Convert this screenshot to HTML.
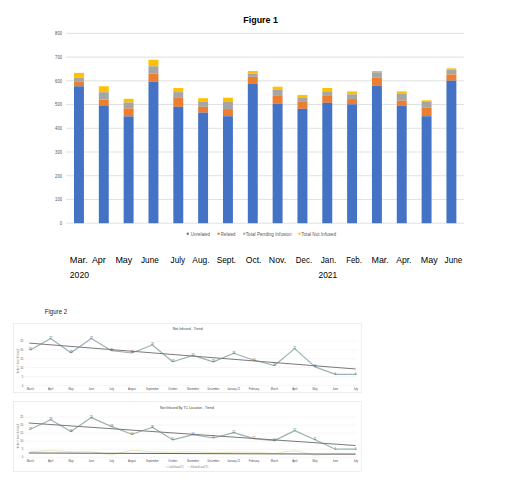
<!DOCTYPE html>
<html><head><meta charset="utf-8"><title>Figures</title>
<style>
html,body{margin:0;padding:0;background:#fff;}
body{width:520px;height:503px;overflow:hidden;font-family:"Liberation Sans", sans-serif;}
svg{display:block;}
text{font-family:"Liberation Sans", sans-serif;}
</style></head><body>
<svg width="520" height="503" viewBox="0 0 520 503">
<text x="243.30" y="23.30" font-size="9.6" fill="#000" font-weight="bold" text-anchor="start" textLength="34.60" lengthAdjust="spacingAndGlyphs">Figure 1</text>
<line x1="66" y1="223.20" x2="464" y2="223.20" stroke="#d9d9d9" stroke-width="0.8"/>
<text x="0" y="0" transform="translate(59.70,225.00) scale(0.25)" font-size="20.00" fill="#505050" font-weight="normal" text-anchor="start" textLength="9.20" lengthAdjust="spacingAndGlyphs">0</text>
<line x1="66" y1="199.47" x2="464" y2="199.47" stroke="#d9d9d9" stroke-width="0.8"/>
<text x="0" y="0" transform="translate(55.10,201.27) scale(0.25)" font-size="20.00" fill="#505050" font-weight="normal" text-anchor="start" textLength="27.60" lengthAdjust="spacingAndGlyphs">100</text>
<line x1="66" y1="175.74" x2="464" y2="175.74" stroke="#d9d9d9" stroke-width="0.8"/>
<text x="0" y="0" transform="translate(55.10,177.54) scale(0.25)" font-size="20.00" fill="#505050" font-weight="normal" text-anchor="start" textLength="27.60" lengthAdjust="spacingAndGlyphs">200</text>
<line x1="66" y1="152.01" x2="464" y2="152.01" stroke="#d9d9d9" stroke-width="0.8"/>
<text x="0" y="0" transform="translate(55.10,153.81) scale(0.25)" font-size="20.00" fill="#505050" font-weight="normal" text-anchor="start" textLength="27.60" lengthAdjust="spacingAndGlyphs">300</text>
<line x1="66" y1="128.28" x2="464" y2="128.28" stroke="#d9d9d9" stroke-width="0.8"/>
<text x="0" y="0" transform="translate(55.10,130.08) scale(0.25)" font-size="20.00" fill="#505050" font-weight="normal" text-anchor="start" textLength="27.60" lengthAdjust="spacingAndGlyphs">400</text>
<line x1="66" y1="104.55" x2="464" y2="104.55" stroke="#d9d9d9" stroke-width="0.8"/>
<text x="0" y="0" transform="translate(55.10,106.35) scale(0.25)" font-size="20.00" fill="#505050" font-weight="normal" text-anchor="start" textLength="27.60" lengthAdjust="spacingAndGlyphs">500</text>
<line x1="66" y1="80.82" x2="464" y2="80.82" stroke="#d9d9d9" stroke-width="0.8"/>
<text x="0" y="0" transform="translate(55.10,82.62) scale(0.25)" font-size="20.00" fill="#505050" font-weight="normal" text-anchor="start" textLength="27.60" lengthAdjust="spacingAndGlyphs">600</text>
<line x1="66" y1="57.09" x2="464" y2="57.09" stroke="#d9d9d9" stroke-width="0.8"/>
<text x="0" y="0" transform="translate(55.10,58.89) scale(0.25)" font-size="20.00" fill="#505050" font-weight="normal" text-anchor="start" textLength="27.60" lengthAdjust="spacingAndGlyphs">700</text>
<line x1="66" y1="33.36" x2="464" y2="33.36" stroke="#d9d9d9" stroke-width="0.8"/>
<text x="0" y="0" transform="translate(55.10,35.16) scale(0.25)" font-size="20.00" fill="#505050" font-weight="normal" text-anchor="start" textLength="27.60" lengthAdjust="spacingAndGlyphs">800</text>
<rect x="74.00" y="72.90" width="9.93" height="4.80" fill="#FFC000"/>
<rect x="74.00" y="77.70" width="9.93" height="4.10" fill="#A5A5A5"/>
<rect x="74.00" y="81.80" width="9.93" height="4.50" fill="#ED7D31"/>
<rect x="74.00" y="86.30" width="9.93" height="136.90" fill="#4472C4"/>
<rect x="98.83" y="86.25" width="9.93" height="5.95" fill="#FFC000"/>
<rect x="98.83" y="92.20" width="9.93" height="7.50" fill="#A5A5A5"/>
<rect x="98.83" y="99.70" width="9.93" height="6.30" fill="#ED7D31"/>
<rect x="98.83" y="106.00" width="9.93" height="117.20" fill="#4472C4"/>
<rect x="123.66" y="98.80" width="9.93" height="3.70" fill="#FFC000"/>
<rect x="123.66" y="102.50" width="9.93" height="5.80" fill="#A5A5A5"/>
<rect x="123.66" y="108.30" width="9.93" height="8.10" fill="#ED7D31"/>
<rect x="123.66" y="116.40" width="9.93" height="106.80" fill="#4472C4"/>
<rect x="148.49" y="59.80" width="9.93" height="6.50" fill="#FFC000"/>
<rect x="148.49" y="66.30" width="9.93" height="7.20" fill="#A5A5A5"/>
<rect x="148.49" y="73.50" width="9.93" height="8.30" fill="#ED7D31"/>
<rect x="148.49" y="81.80" width="9.93" height="141.40" fill="#4472C4"/>
<rect x="173.32" y="88.05" width="9.93" height="4.05" fill="#FFC000"/>
<rect x="173.32" y="92.10" width="9.93" height="5.80" fill="#A5A5A5"/>
<rect x="173.32" y="97.90" width="9.93" height="8.90" fill="#ED7D31"/>
<rect x="173.32" y="106.80" width="9.93" height="116.40" fill="#4472C4"/>
<rect x="198.15" y="98.20" width="9.93" height="3.30" fill="#FFC000"/>
<rect x="198.15" y="101.50" width="9.93" height="5.30" fill="#A5A5A5"/>
<rect x="198.15" y="106.80" width="9.93" height="5.80" fill="#ED7D31"/>
<rect x="198.15" y="112.60" width="9.93" height="110.60" fill="#4472C4"/>
<rect x="222.98" y="97.70" width="9.93" height="4.30" fill="#FFC000"/>
<rect x="222.98" y="102.00" width="9.93" height="7.10" fill="#A5A5A5"/>
<rect x="222.98" y="109.10" width="9.93" height="7.10" fill="#ED7D31"/>
<rect x="222.98" y="116.20" width="9.93" height="107.00" fill="#4472C4"/>
<rect x="247.81" y="71.00" width="9.93" height="2.60" fill="#FFC000"/>
<rect x="247.81" y="73.60" width="9.93" height="3.20" fill="#A5A5A5"/>
<rect x="247.81" y="76.80" width="9.93" height="7.10" fill="#ED7D31"/>
<rect x="247.81" y="83.90" width="9.93" height="139.30" fill="#4472C4"/>
<rect x="272.64" y="86.70" width="9.93" height="3.20" fill="#FFC000"/>
<rect x="272.64" y="89.90" width="9.93" height="6.00" fill="#A5A5A5"/>
<rect x="272.64" y="95.90" width="9.93" height="7.90" fill="#ED7D31"/>
<rect x="272.64" y="103.80" width="9.93" height="119.40" fill="#4472C4"/>
<rect x="297.47" y="94.90" width="9.93" height="2.50" fill="#FFC000"/>
<rect x="297.47" y="97.40" width="9.93" height="3.90" fill="#A5A5A5"/>
<rect x="297.47" y="101.30" width="9.93" height="7.50" fill="#ED7D31"/>
<rect x="297.47" y="108.80" width="9.93" height="114.40" fill="#4472C4"/>
<rect x="322.30" y="87.90" width="9.93" height="3.50" fill="#FFC000"/>
<rect x="322.30" y="91.40" width="9.93" height="4.50" fill="#A5A5A5"/>
<rect x="322.30" y="95.90" width="9.93" height="6.90" fill="#ED7D31"/>
<rect x="322.30" y="102.80" width="9.93" height="120.40" fill="#4472C4"/>
<rect x="347.13" y="91.40" width="9.93" height="3.00" fill="#FFC000"/>
<rect x="347.13" y="94.40" width="9.93" height="4.50" fill="#A5A5A5"/>
<rect x="347.13" y="98.90" width="9.93" height="5.40" fill="#ED7D31"/>
<rect x="347.13" y="104.30" width="9.93" height="118.90" fill="#4472C4"/>
<rect x="371.96" y="71.00" width="9.93" height="1.30" fill="#FFC000"/>
<rect x="371.96" y="72.30" width="9.93" height="5.10" fill="#A5A5A5"/>
<rect x="371.96" y="77.40" width="9.93" height="8.40" fill="#ED7D31"/>
<rect x="371.96" y="85.80" width="9.93" height="137.40" fill="#4472C4"/>
<rect x="396.79" y="91.40" width="9.93" height="2.50" fill="#FFC000"/>
<rect x="396.79" y="93.90" width="9.93" height="6.80" fill="#A5A5A5"/>
<rect x="396.79" y="100.70" width="9.93" height="5.20" fill="#ED7D31"/>
<rect x="396.79" y="105.90" width="9.93" height="117.30" fill="#4472C4"/>
<rect x="421.62" y="100.30" width="9.93" height="1.70" fill="#FFC000"/>
<rect x="421.62" y="102.00" width="9.93" height="5.80" fill="#A5A5A5"/>
<rect x="421.62" y="107.80" width="9.93" height="8.40" fill="#ED7D31"/>
<rect x="421.62" y="116.20" width="9.93" height="107.00" fill="#4472C4"/>
<rect x="446.45" y="68.40" width="9.93" height="1.70" fill="#FFC000"/>
<rect x="446.45" y="70.10" width="9.93" height="4.40" fill="#A5A5A5"/>
<rect x="446.45" y="74.50" width="9.93" height="6.20" fill="#ED7D31"/>
<rect x="446.45" y="80.70" width="9.93" height="142.50" fill="#4472C4"/>
<rect x="186.70000000000002" y="232.7" width="2.1" height="2.1" fill="#4472C4"/>
<text x="0" y="0" transform="translate(190.80,235.60) scale(0.25)" font-size="18.80" fill="#595959" font-weight="normal" text-anchor="start" textLength="76.80" lengthAdjust="spacingAndGlyphs">Unrelated</text>
<rect x="217.5" y="232.7" width="2.1" height="2.1" fill="#ED7D31"/>
<text x="0" y="0" transform="translate(220.80,235.60) scale(0.25)" font-size="18.80" fill="#595959" font-weight="normal" text-anchor="start" textLength="58.40" lengthAdjust="spacingAndGlyphs">Related</text>
<rect x="243.20000000000002" y="232.7" width="2.1" height="2.1" fill="#A5A5A5"/>
<text x="0" y="0" transform="translate(245.80,235.60) scale(0.25)" font-size="18.80" fill="#595959" font-weight="normal" text-anchor="start" textLength="182.80" lengthAdjust="spacingAndGlyphs">Total Pending Infusion</text>
<rect x="298.5" y="232.7" width="2.1" height="2.1" fill="#FFC000"/>
<text x="0" y="0" transform="translate(301.20,235.60) scale(0.25)" font-size="18.80" fill="#595959" font-weight="normal" text-anchor="start" textLength="139.20" lengthAdjust="spacingAndGlyphs">Total Not Infused</text>
<text x="69.80" y="263.10" font-size="8.4" fill="#000" font-weight="normal" text-anchor="start" textLength="17.90" lengthAdjust="spacingAndGlyphs">Mar.</text>
<text x="91.90" y="263.10" font-size="8.4" fill="#000" font-weight="normal" text-anchor="start" textLength="13.90" lengthAdjust="spacingAndGlyphs">Apr</text>
<text x="115.40" y="263.10" font-size="8.4" fill="#000" font-weight="normal" text-anchor="start" textLength="16.90" lengthAdjust="spacingAndGlyphs">May</text>
<text x="141.00" y="263.10" font-size="8.4" fill="#000" font-weight="normal" text-anchor="start" textLength="17.80" lengthAdjust="spacingAndGlyphs">June</text>
<text x="170.60" y="263.10" font-size="8.4" fill="#000" font-weight="normal" text-anchor="start" textLength="14.40" lengthAdjust="spacingAndGlyphs">July</text>
<text x="192.30" y="263.10" font-size="8.4" fill="#000" font-weight="normal" text-anchor="start" textLength="17.30" lengthAdjust="spacingAndGlyphs">Aug.</text>
<text x="216.70" y="263.10" font-size="8.4" fill="#000" font-weight="normal" text-anchor="start" textLength="19.30" lengthAdjust="spacingAndGlyphs">Sept.</text>
<text x="245.80" y="263.10" font-size="8.4" fill="#000" font-weight="normal" text-anchor="start" textLength="15.70" lengthAdjust="spacingAndGlyphs">Oct.</text>
<text x="268.80" y="263.10" font-size="8.4" fill="#000" font-weight="normal" text-anchor="start" textLength="17.40" lengthAdjust="spacingAndGlyphs">Nov.</text>
<text x="295.80" y="263.10" font-size="8.4" fill="#000" font-weight="normal" text-anchor="start" textLength="16.30" lengthAdjust="spacingAndGlyphs">Dec.</text>
<text x="320.80" y="263.10" font-size="8.4" fill="#000" font-weight="normal" text-anchor="start" textLength="15.40" lengthAdjust="spacingAndGlyphs">Jan.</text>
<text x="346.20" y="263.10" font-size="8.4" fill="#000" font-weight="normal" text-anchor="start" textLength="15.70" lengthAdjust="spacingAndGlyphs">Feb.</text>
<text x="371.50" y="263.10" font-size="8.4" fill="#000" font-weight="normal" text-anchor="start" textLength="17.30" lengthAdjust="spacingAndGlyphs">Mar.</text>
<text x="396.20" y="263.10" font-size="8.4" fill="#000" font-weight="normal" text-anchor="start" textLength="15.30" lengthAdjust="spacingAndGlyphs">Apr.</text>
<text x="420.80" y="263.10" font-size="8.4" fill="#000" font-weight="normal" text-anchor="start" textLength="16.90" lengthAdjust="spacingAndGlyphs">May</text>
<text x="444.60" y="263.10" font-size="8.4" fill="#000" font-weight="normal" text-anchor="start" textLength="17.70" lengthAdjust="spacingAndGlyphs">June</text>
<text x="69.80" y="278.30" font-size="8.7" fill="#000" font-weight="normal" text-anchor="start" textLength="19.20" lengthAdjust="spacingAndGlyphs">2020</text>
<text x="318.50" y="278.30" font-size="8.7" fill="#000" font-weight="normal" text-anchor="start" textLength="18.60" lengthAdjust="spacingAndGlyphs">2021</text>
<text x="44.80" y="314.10" font-size="6.6" fill="#222" font-weight="normal" text-anchor="start" textLength="22.30" lengthAdjust="spacingAndGlyphs">Figure 2</text>
<rect x="13.5" y="323.3" width="347.8" height="69.19999999999999" fill="#fff" stroke="#e6e6e6" stroke-width="0.7"/>
<line x1="24.5" y1="385.40" x2="357" y2="385.40" stroke="#ececec" stroke-width="0.5"/>
<text x="0" y="0" transform="translate(23.30,386.50) scale(0.25)" font-size="10.80" fill="#505050" font-weight="normal" text-anchor="end">0</text>
<line x1="24.5" y1="376.55" x2="357" y2="376.55" stroke="#ececec" stroke-width="0.5"/>
<text x="0" y="0" transform="translate(23.30,377.65) scale(0.25)" font-size="10.80" fill="#505050" font-weight="normal" text-anchor="end">5</text>
<line x1="24.5" y1="367.70" x2="357" y2="367.70" stroke="#ececec" stroke-width="0.5"/>
<text x="0" y="0" transform="translate(23.30,368.80) scale(0.25)" font-size="10.80" fill="#505050" font-weight="normal" text-anchor="end">10</text>
<line x1="24.5" y1="358.85" x2="357" y2="358.85" stroke="#ececec" stroke-width="0.5"/>
<text x="0" y="0" transform="translate(23.30,359.95) scale(0.25)" font-size="10.80" fill="#505050" font-weight="normal" text-anchor="end">15</text>
<line x1="24.5" y1="350.00" x2="357" y2="350.00" stroke="#ececec" stroke-width="0.5"/>
<text x="0" y="0" transform="translate(23.30,351.10) scale(0.25)" font-size="10.80" fill="#505050" font-weight="normal" text-anchor="end">20</text>
<line x1="24.5" y1="341.15" x2="357" y2="341.15" stroke="#ececec" stroke-width="0.5"/>
<text x="0" y="0" transform="translate(23.30,342.25) scale(0.25)" font-size="10.80" fill="#505050" font-weight="normal" text-anchor="end">25</text>
<text x="0" y="0" font-size="2.6" fill="#606060" text-anchor="middle" transform="translate(19.0,361.50) rotate(-90)" textLength="24.30" lengthAdjust="spacingAndGlyphs">Number of Doses Not Infused</text>
<text x="0" y="0" transform="translate(172.80,329.90) scale(0.25)" font-size="15.20" fill="#404040" font-weight="normal" text-anchor="start" textLength="119.20" lengthAdjust="spacingAndGlyphs">Not Infused - Trend</text>
<text x="0" y="0" transform="translate(30.30,389.80) scale(0.25)" font-size="10.40" fill="#4a4a4a" font-weight="normal" text-anchor="middle">March</text>
<text x="0" y="0" transform="translate(50.64,389.80) scale(0.25)" font-size="10.40" fill="#4a4a4a" font-weight="normal" text-anchor="middle">April</text>
<text x="0" y="0" transform="translate(70.98,389.80) scale(0.25)" font-size="10.40" fill="#4a4a4a" font-weight="normal" text-anchor="middle">May</text>
<text x="0" y="0" transform="translate(91.32,389.80) scale(0.25)" font-size="10.40" fill="#4a4a4a" font-weight="normal" text-anchor="middle">June</text>
<text x="0" y="0" transform="translate(111.66,389.80) scale(0.25)" font-size="10.40" fill="#4a4a4a" font-weight="normal" text-anchor="middle">July</text>
<text x="0" y="0" transform="translate(132.00,389.80) scale(0.25)" font-size="10.40" fill="#4a4a4a" font-weight="normal" text-anchor="middle">August</text>
<text x="0" y="0" transform="translate(152.34,389.80) scale(0.25)" font-size="10.40" fill="#4a4a4a" font-weight="normal" text-anchor="middle">September</text>
<text x="0" y="0" transform="translate(172.68,389.80) scale(0.25)" font-size="10.40" fill="#4a4a4a" font-weight="normal" text-anchor="middle">October</text>
<text x="0" y="0" transform="translate(193.02,389.80) scale(0.25)" font-size="10.40" fill="#4a4a4a" font-weight="normal" text-anchor="middle">November</text>
<text x="0" y="0" transform="translate(213.36,389.80) scale(0.25)" font-size="10.40" fill="#4a4a4a" font-weight="normal" text-anchor="middle">December</text>
<text x="0" y="0" transform="translate(233.70,389.80) scale(0.25)" font-size="10.40" fill="#4a4a4a" font-weight="normal" text-anchor="middle">January 21</text>
<text x="0" y="0" transform="translate(254.04,389.80) scale(0.25)" font-size="10.40" fill="#4a4a4a" font-weight="normal" text-anchor="middle">February</text>
<text x="0" y="0" transform="translate(274.38,389.80) scale(0.25)" font-size="10.40" fill="#4a4a4a" font-weight="normal" text-anchor="middle">March</text>
<text x="0" y="0" transform="translate(294.72,389.80) scale(0.25)" font-size="10.40" fill="#4a4a4a" font-weight="normal" text-anchor="middle">April</text>
<text x="0" y="0" transform="translate(315.06,389.80) scale(0.25)" font-size="10.40" fill="#4a4a4a" font-weight="normal" text-anchor="middle">May</text>
<text x="0" y="0" transform="translate(335.40,389.80) scale(0.25)" font-size="10.40" fill="#4a4a4a" font-weight="normal" text-anchor="middle">June</text>
<text x="0" y="0" transform="translate(355.74,389.80) scale(0.25)" font-size="10.40" fill="#4a4a4a" font-weight="normal" text-anchor="middle">July</text>
<polyline points="30.30,349.9 50.64,338.4 70.98,352.8 91.32,338.4 111.66,350.7 132.00,353.0 152.34,345.0 172.68,361.7 193.02,355.4 213.36,361.9 233.70,353.2 254.04,360.2 274.38,365.5 294.72,348.6 315.06,366.9 335.40,374.4 355.74,374.4" fill="none" stroke="#9db2b2" stroke-width="1.2" stroke-linejoin="round" stroke-linecap="round"/>
<line x1="29.2" y1="343.1" x2="355.7" y2="369.0" stroke="#7a7a7a" stroke-width="1.0"/>
<text x="0" y="0" transform="translate(30.30,350.20) scale(0.25)" font-size="10.40" fill="#444" font-weight="normal" text-anchor="middle">20</text>
<text x="0" y="0" transform="translate(50.64,338.70) scale(0.25)" font-size="10.40" fill="#444" font-weight="normal" text-anchor="middle">27</text>
<text x="0" y="0" transform="translate(70.98,353.10) scale(0.25)" font-size="10.40" fill="#444" font-weight="normal" text-anchor="middle">18</text>
<text x="0" y="0" transform="translate(91.32,338.70) scale(0.25)" font-size="10.40" fill="#444" font-weight="normal" text-anchor="middle">27</text>
<text x="0" y="0" transform="translate(111.66,351.00) scale(0.25)" font-size="10.40" fill="#444" font-weight="normal" text-anchor="middle">20</text>
<text x="0" y="0" transform="translate(132.00,353.30) scale(0.25)" font-size="10.40" fill="#444" font-weight="normal" text-anchor="middle">18</text>
<text x="0" y="0" transform="translate(152.34,345.30) scale(0.25)" font-size="10.40" fill="#444" font-weight="normal" text-anchor="middle">23</text>
<text x="0" y="0" transform="translate(172.68,362.00) scale(0.25)" font-size="10.40" fill="#444" font-weight="normal" text-anchor="middle">13</text>
<text x="0" y="0" transform="translate(193.02,355.70) scale(0.25)" font-size="10.40" fill="#444" font-weight="normal" text-anchor="middle">17</text>
<text x="0" y="0" transform="translate(213.36,362.20) scale(0.25)" font-size="10.40" fill="#444" font-weight="normal" text-anchor="middle">13</text>
<text x="0" y="0" transform="translate(233.70,353.50) scale(0.25)" font-size="10.40" fill="#444" font-weight="normal" text-anchor="middle">18</text>
<text x="0" y="0" transform="translate(254.04,360.50) scale(0.25)" font-size="10.40" fill="#444" font-weight="normal" text-anchor="middle">14</text>
<text x="0" y="0" transform="translate(274.38,365.80) scale(0.25)" font-size="10.40" fill="#444" font-weight="normal" text-anchor="middle">11</text>
<text x="0" y="0" transform="translate(294.72,348.90) scale(0.25)" font-size="10.40" fill="#444" font-weight="normal" text-anchor="middle">21</text>
<text x="0" y="0" transform="translate(315.06,367.20) scale(0.25)" font-size="10.40" fill="#444" font-weight="normal" text-anchor="middle">10</text>
<text x="0" y="0" transform="translate(335.40,374.70) scale(0.25)" font-size="10.40" fill="#444" font-weight="normal" text-anchor="middle">6</text>
<text x="0" y="0" transform="translate(355.74,374.70) scale(0.25)" font-size="10.40" fill="#444" font-weight="normal" text-anchor="middle">6</text>
<rect x="13.5" y="401.4" width="347.8" height="70.0" fill="#fff" stroke="#e6e6e6" stroke-width="0.7"/>
<line x1="24.5" y1="457.30" x2="357" y2="457.30" stroke="#ececec" stroke-width="0.5"/>
<text x="0" y="0" transform="translate(23.30,458.40) scale(0.25)" font-size="10.80" fill="#505050" font-weight="normal" text-anchor="end">0</text>
<line x1="24.5" y1="449.25" x2="357" y2="449.25" stroke="#ececec" stroke-width="0.5"/>
<text x="0" y="0" transform="translate(23.30,450.35) scale(0.25)" font-size="10.80" fill="#505050" font-weight="normal" text-anchor="end">5</text>
<line x1="24.5" y1="441.20" x2="357" y2="441.20" stroke="#ececec" stroke-width="0.5"/>
<text x="0" y="0" transform="translate(23.30,442.30) scale(0.25)" font-size="10.80" fill="#505050" font-weight="normal" text-anchor="end">10</text>
<line x1="24.5" y1="433.15" x2="357" y2="433.15" stroke="#ececec" stroke-width="0.5"/>
<text x="0" y="0" transform="translate(23.30,434.25) scale(0.25)" font-size="10.80" fill="#505050" font-weight="normal" text-anchor="end">15</text>
<line x1="24.5" y1="425.10" x2="357" y2="425.10" stroke="#ececec" stroke-width="0.5"/>
<text x="0" y="0" transform="translate(23.30,426.20) scale(0.25)" font-size="10.80" fill="#505050" font-weight="normal" text-anchor="end">20</text>
<line x1="24.5" y1="417.05" x2="357" y2="417.05" stroke="#ececec" stroke-width="0.5"/>
<text x="0" y="0" transform="translate(23.30,418.15) scale(0.25)" font-size="10.80" fill="#505050" font-weight="normal" text-anchor="end">25</text>
<text x="0" y="0" font-size="2.6" fill="#606060" text-anchor="middle" transform="translate(19.0,436.50) rotate(-90)" textLength="24.30" lengthAdjust="spacingAndGlyphs">Number of Doses Not Infused</text>
<text x="0" y="0" transform="translate(160.00,408.90) scale(0.25)" font-size="15.20" fill="#404040" font-weight="normal" text-anchor="start" textLength="215.20" lengthAdjust="spacingAndGlyphs">Not Infused By TC Location - Trend</text>
<text x="0" y="0" transform="translate(30.30,462.00) scale(0.25)" font-size="10.40" fill="#4a4a4a" font-weight="normal" text-anchor="middle">March</text>
<text x="0" y="0" transform="translate(50.64,462.00) scale(0.25)" font-size="10.40" fill="#4a4a4a" font-weight="normal" text-anchor="middle">April</text>
<text x="0" y="0" transform="translate(70.98,462.00) scale(0.25)" font-size="10.40" fill="#4a4a4a" font-weight="normal" text-anchor="middle">May</text>
<text x="0" y="0" transform="translate(91.32,462.00) scale(0.25)" font-size="10.40" fill="#4a4a4a" font-weight="normal" text-anchor="middle">June</text>
<text x="0" y="0" transform="translate(111.66,462.00) scale(0.25)" font-size="10.40" fill="#4a4a4a" font-weight="normal" text-anchor="middle">July</text>
<text x="0" y="0" transform="translate(132.00,462.00) scale(0.25)" font-size="10.40" fill="#4a4a4a" font-weight="normal" text-anchor="middle">August</text>
<text x="0" y="0" transform="translate(152.34,462.00) scale(0.25)" font-size="10.40" fill="#4a4a4a" font-weight="normal" text-anchor="middle">September</text>
<text x="0" y="0" transform="translate(172.68,462.00) scale(0.25)" font-size="10.40" fill="#4a4a4a" font-weight="normal" text-anchor="middle">October</text>
<text x="0" y="0" transform="translate(193.02,462.00) scale(0.25)" font-size="10.40" fill="#4a4a4a" font-weight="normal" text-anchor="middle">November</text>
<text x="0" y="0" transform="translate(213.36,462.00) scale(0.25)" font-size="10.40" fill="#4a4a4a" font-weight="normal" text-anchor="middle">December</text>
<text x="0" y="0" transform="translate(233.70,462.00) scale(0.25)" font-size="10.40" fill="#4a4a4a" font-weight="normal" text-anchor="middle">January 21</text>
<text x="0" y="0" transform="translate(254.04,462.00) scale(0.25)" font-size="10.40" fill="#4a4a4a" font-weight="normal" text-anchor="middle">February</text>
<text x="0" y="0" transform="translate(274.38,462.00) scale(0.25)" font-size="10.40" fill="#4a4a4a" font-weight="normal" text-anchor="middle">March</text>
<text x="0" y="0" transform="translate(294.72,462.00) scale(0.25)" font-size="10.40" fill="#4a4a4a" font-weight="normal" text-anchor="middle">April</text>
<text x="0" y="0" transform="translate(315.06,462.00) scale(0.25)" font-size="10.40" fill="#4a4a4a" font-weight="normal" text-anchor="middle">May</text>
<text x="0" y="0" transform="translate(335.40,462.00) scale(0.25)" font-size="10.40" fill="#4a4a4a" font-weight="normal" text-anchor="middle">June</text>
<text x="0" y="0" transform="translate(355.74,462.00) scale(0.25)" font-size="10.40" fill="#4a4a4a" font-weight="normal" text-anchor="middle">July</text>
<polyline points="30.30,451.6 50.64,450.6 70.98,451.8 91.32,451.8 111.66,454.8 132.00,450.2 152.34,451.8 172.68,452.2 193.02,451.8 213.36,452.6 233.70,452.2 254.04,452.2 274.38,453.4 294.72,450.6 315.06,455.2 335.40,453.4 355.74,453.4" fill="none" stroke="#e6e2b4" stroke-width="0.9" stroke-linejoin="round" stroke-linecap="round"/>
<polyline points="30.30,429.2 50.64,419.8 70.98,431.4 91.32,417.6 111.66,426.6 132.00,434.2 152.34,427.2 172.68,439.8 193.02,434.6 213.36,438.0 233.70,432.7 254.04,438.7 274.38,440.6 294.72,430.6 315.06,439.8 335.40,449.2 355.74,449.2" fill="none" stroke="#9db2b2" stroke-width="1.2" stroke-linejoin="round" stroke-linecap="round"/>
<line x1="28.75" y1="423" x2="355.5" y2="445.5" stroke="#7a7a7a" stroke-width="1.0"/>
<line x1="28.75" y1="453.0" x2="355.5" y2="454.2" stroke="#626262" stroke-width="1.0"/>
<text x="0" y="0" transform="translate(30.30,429.50) scale(0.25)" font-size="10.40" fill="#444" font-weight="normal" text-anchor="middle">17</text>
<text x="0" y="0" transform="translate(50.64,420.10) scale(0.25)" font-size="10.40" fill="#444" font-weight="normal" text-anchor="middle">23</text>
<text x="0" y="0" transform="translate(70.98,431.70) scale(0.25)" font-size="10.40" fill="#444" font-weight="normal" text-anchor="middle">16</text>
<text x="0" y="0" transform="translate(91.32,417.90) scale(0.25)" font-size="10.40" fill="#444" font-weight="normal" text-anchor="middle">25</text>
<text x="0" y="0" transform="translate(111.66,426.90) scale(0.25)" font-size="10.40" fill="#444" font-weight="normal" text-anchor="middle">19</text>
<text x="0" y="0" transform="translate(132.00,434.50) scale(0.25)" font-size="10.40" fill="#444" font-weight="normal" text-anchor="middle">14</text>
<text x="0" y="0" transform="translate(152.34,427.50) scale(0.25)" font-size="10.40" fill="#444" font-weight="normal" text-anchor="middle">19</text>
<text x="0" y="0" transform="translate(172.68,440.10) scale(0.25)" font-size="10.40" fill="#444" font-weight="normal" text-anchor="middle">11</text>
<text x="0" y="0" transform="translate(193.02,434.90) scale(0.25)" font-size="10.40" fill="#444" font-weight="normal" text-anchor="middle">14</text>
<text x="0" y="0" transform="translate(213.36,438.30) scale(0.25)" font-size="10.40" fill="#444" font-weight="normal" text-anchor="middle">12</text>
<text x="0" y="0" transform="translate(233.70,433.00) scale(0.25)" font-size="10.40" fill="#444" font-weight="normal" text-anchor="middle">15</text>
<text x="0" y="0" transform="translate(254.04,439.00) scale(0.25)" font-size="10.40" fill="#444" font-weight="normal" text-anchor="middle">12</text>
<text x="0" y="0" transform="translate(274.38,440.90) scale(0.25)" font-size="10.40" fill="#444" font-weight="normal" text-anchor="middle">10</text>
<text x="0" y="0" transform="translate(294.72,430.90) scale(0.25)" font-size="10.40" fill="#444" font-weight="normal" text-anchor="middle">17</text>
<text x="0" y="0" transform="translate(315.06,440.10) scale(0.25)" font-size="10.40" fill="#444" font-weight="normal" text-anchor="middle">11</text>
<text x="0" y="0" transform="translate(335.40,449.50) scale(0.25)" font-size="10.40" fill="#444" font-weight="normal" text-anchor="middle">5</text>
<text x="0" y="0" transform="translate(355.74,449.50) scale(0.25)" font-size="10.40" fill="#444" font-weight="normal" text-anchor="middle">5</text>
<line x1="166" y1="467.0" x2="168.5" y2="467.0" stroke="#9db2b2" stroke-width="0.6"/>
<text x="0" y="0" transform="translate(169.00,467.90) scale(0.25)" font-size="10.40" fill="#6f6f6f" font-weight="normal" text-anchor="start" textLength="59.20" lengthAdjust="spacingAndGlyphs">Lab Infused TC</text>
<line x1="187.7" y1="467.0" x2="190.2" y2="467.0" stroke="#e3dda6" stroke-width="0.6"/>
<text x="0" y="0" transform="translate(190.70,467.90) scale(0.25)" font-size="10.40" fill="#6f6f6f" font-weight="normal" text-anchor="start" textLength="71.20" lengthAdjust="spacingAndGlyphs">Infused Local TC</text>
</svg>
</body></html>
